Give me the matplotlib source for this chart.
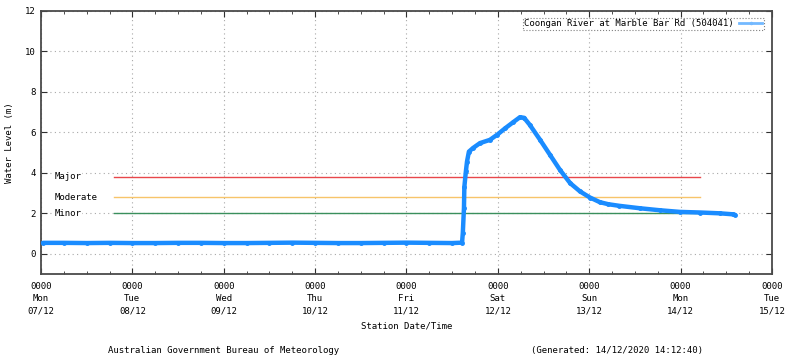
import matplotlib
matplotlib.use('Agg')
import matplotlib.pyplot as plt
import matplotlib.dates as mdates
from matplotlib.lines import Line2D
import pandas as pd

# hours after Mon 07/12/2020 00:00, water level (m)
hours = [0.5, 6, 12, 18, 24, 30, 36, 42, 48, 54, 60, 66, 72, 78, 84, 90,
         96, 102, 108, 110.6, 110.8, 111.1, 111.2, 111.6, 111.9, 112.4,
         113.5, 115.3, 117.9, 119.8, 121.9, 124.0, 125.8, 126.9, 128.4,
         131.1, 133.7, 136.3, 139.0, 141.6, 144.2, 146.8, 149.0, 151.9,
         157.3, 162.6, 167.8, 173.1, 178.3, 181.8, 182.3]
level = [0.54, 0.54, 0.53, 0.54, 0.53, 0.53, 0.54, 0.54, 0.53, 0.53, 0.54,
         0.55, 0.54, 0.53, 0.53, 0.54, 0.55, 0.54, 0.53, 0.55, 1.04, 2.27,
         3.30, 4.07, 4.56, 5.05, 5.23, 5.47, 5.63, 5.88, 6.20, 6.50, 6.75,
         6.72, 6.37, 5.63, 4.89, 4.15, 3.49, 3.08, 2.78, 2.55, 2.45, 2.37,
         2.25, 2.15, 2.07, 2.04, 2.00, 1.95, 1.92]

flood_names = ['Major', 'Moderate', 'Minor']
flood_levels = [3.8, 2.8, 2.0]
flood_colors = ['#e8474a', '#f7c46a', '#3a8f5c']
flood_start_h = 19.2
flood_end_h = 173.1

start = pd.Timestamp('2020-12-07')
t = start + pd.to_timedelta(hours, unit='h')

plt.rcParams['font.family'] = 'DejaVu Sans Mono'
plt.rcParams['font.size'] = 6.5

fig = plt.figure(figsize=(8, 3.58), dpi=100)
ax = fig.add_axes([0.05125, 0.2346, 0.9137, 0.7347])

t0 = start + pd.Timedelta(hours=flood_start_h)
t1 = start + pd.Timedelta(hours=flood_end_h)
for name, lv, c in zip(flood_names, flood_levels, flood_colors):
    ax.plot([t0, t1], [lv, lv], color=c, lw=1, zorder=2)
    ax.text(start + pd.Timedelta(hours=3.6), lv, name, va='center', ha='left',
            zorder=3, bbox=dict(facecolor='white', edgecolor='none', pad=0.5))

ax.plot(t, level, color='#1a8cff', lw=3.2, marker='o', ms=2.5,
        solid_capstyle='round', zorder=4)

ax.set_xlim(start, start + pd.Timedelta(days=8))
ax.set_ylim(-1, 12)
ax.set_yticks(range(0, 13, 2))
ax.xaxis.set_major_locator(mdates.DayLocator())
ax.xaxis.set_minor_locator(mdates.HourLocator(byhour=[6, 12, 18]))
ax.xaxis.set_major_formatter(mdates.DateFormatter('%H%M\n%a\n%d/%m'))

ax.grid(True, which='major', color='#a8a8a8', linestyle=(0, (1, 3)), lw=0.8)
ax.tick_params(which='major', direction='in', length=4, top=True, right=True,
               color='#303030', pad=6)
ax.tick_params(which='minor', direction='in', length=2.5, top=True,
               color='#303030')
ax.tick_params(axis='y', pad=4)
for lab in ax.get_xticklabels():
    lab.set_linespacing(1.45)
for sp in ax.spines.values():
    sp.set_color('#4a4a4a')
    sp.set_linewidth(1.3)

ax.set_ylabel('Water Level (m)', labelpad=8)
ax.set_xlabel('Station Date/Time', labelpad=4)

handle = Line2D([], [], color='#73b9ff', lw=2, marker='.', ms=3)
leg = ax.legend([handle], ['Coongan River at Marble Bar Rd (504041)'],
                loc='upper right', fancybox=False, handlelength=2.6,
                borderpad=0.15, handletextpad=0.6, bbox_to_anchor=(0.995, 0.99),
                markerfirst=False)
leg.get_frame().set_linestyle(':')
leg.get_frame().set_edgecolor('#606060')
leg.get_frame().set_linewidth(0.8)

fig.text(0.28, 0.022, 'Australian Government Bureau of Meteorology',
         ha='center', va='center')
fig.text(0.771, 0.022, '(Generated: 14/12/2020 14:12:40)',
         ha='center', va='center')

fig.savefig('out.png', dpi=100)
